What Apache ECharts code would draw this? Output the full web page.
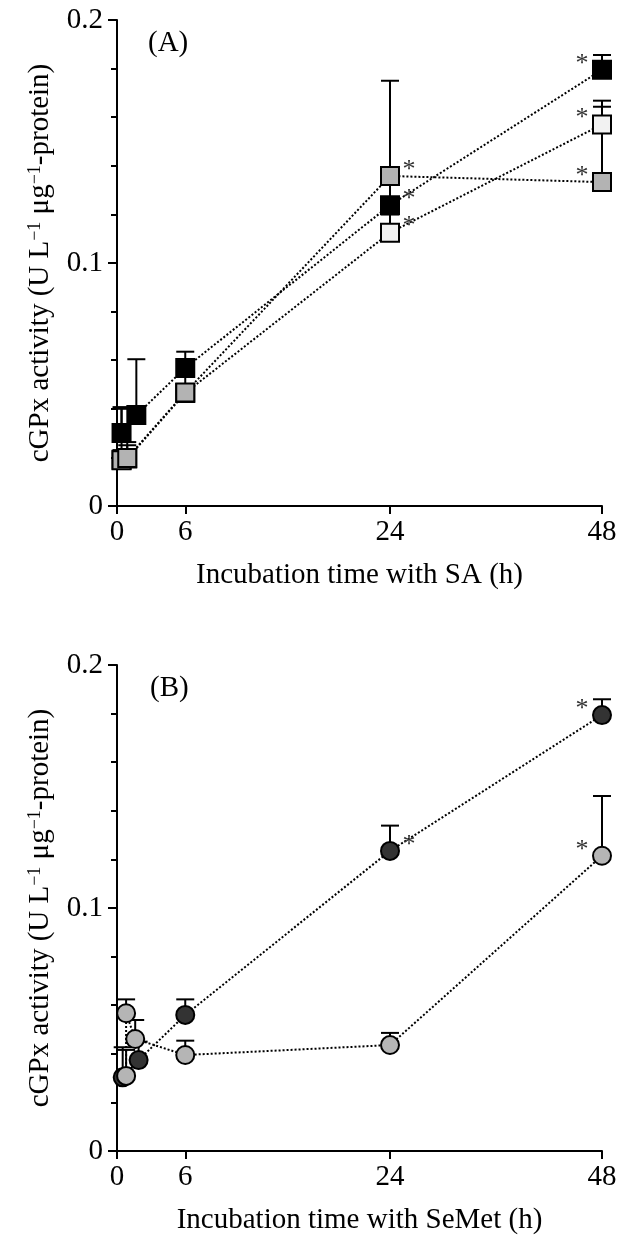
<!DOCTYPE html>
<html>
<head>
<meta charset="utf-8">
<script src="https://cdn.jsdelivr.net/npm/echarts@6/dist/echarts.min.js"></script>
<style>html,body{margin:0;padding:0;background:#fff}#c{width:620px;height:1241px}</style>
</head>
<body>
<div id="c"></div>
<script>
// ---------- DATA ----------
// x tick labels (hours) and y tick labels
const xTickHours = [0, 6, 24, 48];
const xTickLabels = ['0', '6', '24', '48'];
const yTickValues = [0, 0.1, 0.2];
const yTickLabels = ['0', '0.1', '0.2'];

// Panel A: SA treatment (squares)
const hoursA_black = [0.4, 1.7, 6, 24, 48];
const cgpxA_black  = [0.0300, 0.0374, 0.0568, 0.1238, 0.1795];
const sdA_black    = [0.0107, 0.0230, 0.0067, 0.0112, 0.0061];
const sigA_black   = [0, 0, 0, 1, 1];

const hoursA_white = [0.4, 0.9, 6, 24, 48];
const cgpxA_white  = [0.0190, 0.0195, 0.0465, 0.1125, 0.1570];
const sdA_white    = [0.0210, 0.0055, 0.0035, 0.0075, 0.0073];
const sigA_white   = [0, 0, 0, 1, 1];

const hoursA_gray = [0.4, 0.9, 6, 24, 48];
const cgpxA_gray  = [0.0188, 0.0198, 0.0467, 0.1358, 0.1333];
const sdA_gray    = [0.0042, 0.0065, 0.0073, 0.0392, 0.0335];
const sigA_gray   = [0, 0, 0, 1, 1];

// Panel B: SeMet treatment (circles)
const hoursB_dark = [0.5, 1.9, 6, 24, 48];
const cgpxB_dark  = [0.0303, 0.0374, 0.0560, 0.1235, 0.1794];
const sdB_dark    = [0.0124, 0.0076, 0.0064, 0.0104, 0.0065];
const sigB_dark   = [0, 0, 0, 1, 1];

const hoursB_gray = [0.8, 0.8, 1.6, 6, 24, 48];
const cgpxB_gray  = [0.0309, 0.0567, 0.0461, 0.0395, 0.0436, 0.1215];
const sdB_gray    = [0.0107, 0.0057, 0.0078, 0.0059, 0.0050, 0.0246];
const sigB_gray   = [0, 0, 0, 0, 0, 1];

// ---------- AXIS TRANSFORM (compressed after 24 h, as in the original figure) ----------
const LATE_RATIO = 212 / 273;
function tx(h) { return h <= 24 ? h : 24 + (h - 24) * LATE_RATIO; }

const FONT = '"Liberation Serif", "Times New Roman", serif';
const chart = echarts.init(document.getElementById('c'), null, { renderer: 'canvas' });

function rows(hours, vals, sds, sigs) {
  return hours.map((h, i) => [tx(h), vals[i], vals[i] + sds[i], sigs[i], h]);
}

function errRender(params, api) {
  const x = api.value(0), v = api.value(1), top = api.value(2);
  const p0 = api.coord([x, v]);
  const p1 = api.coord([x, top]);
  const st = { stroke: '#000', lineWidth: 2 };
  return {
    type: 'group',
    children: [
      { type: 'line', shape: { x1: p0[0], y1: p0[1], x2: p1[0], y2: p1[1] }, style: st },
      { type: 'line', shape: { x1: p1[0] - 9, y1: p1[1], x2: p1[0] + 9, y2: p1[1] }, style: st }
    ]
  };
}

function sigRender(params, api) {
  if (!api.value(3)) return null;
  const p = api.coord([api.value(0), api.value(1)]);
  const left = api.value(4) >= 48;
  return {
    type: 'text',
    x: p[0] + (left ? -20 : 19),
    y: p[1] - 6,
    style: { text: '*', fill: '#333', font: '26px ' + FONT, align: 'center', verticalAlign: 'middle' }
  };
}

function group(gi, name, data, symbol, fill) {
  return [
    { type: 'line', name: name + '-line', xAxisIndex: gi, yAxisIndex: gi, data: data.map(d => [d[0], d[1]]),
      symbol: 'none', z: 1, silent: true, animation: false,
      lineStyle: { color: '#000', width: 2, type: [2, 2] } },
    { type: 'custom', name: name + '-err', xAxisIndex: gi, yAxisIndex: gi, data: data,
      renderItem: errRender, encode: { x: 0, y: [1, 2] }, z: 2, silent: true, animation: false },
    { type: 'custom', name: name + '-sig', xAxisIndex: gi, yAxisIndex: gi, data: data,
      renderItem: sigRender, encode: { x: 0, y: 1 }, z: 2, silent: true, animation: false }
  ];
}
function marks(gi, name, data, symbol, fill, z) {
  return { type: 'scatter', name: name, xAxisIndex: gi, yAxisIndex: gi, data: data.map(d => [d[0], d[1]]),
    symbol: symbol, symbolSize: 18, z: z, silent: true, animation: false,
    itemStyle: { color: fill, borderColor: '#000', borderWidth: 2, opacity: 1 } };
}

const dA_black = rows(hoursA_black, cgpxA_black, sdA_black, sigA_black);
const dA_white = rows(hoursA_white, cgpxA_white, sdA_white, sigA_white);
const dA_gray  = rows(hoursA_gray,  cgpxA_gray,  sdA_gray,  sigA_gray);
const dB_dark  = rows(hoursB_dark,  cgpxB_dark,  sdB_dark,  sigB_dark);
const dB_gray  = rows(hoursB_gray,  cgpxB_gray,  sdB_gray,  sigB_gray);

function xAxis(gi, title) {
  const ticks = xTickHours.map(tx);
  return {
    gridIndex: gi, type: 'value', min: 0, max: tx(48),
    axisLine: { show: true, onZero: false, lineStyle: { color: '#000', width: 2 } },
    axisTick: { show: true, customValues: ticks, length: 8, lineStyle: { color: '#000', width: 2 } },
    axisLabel: { customValues: ticks, margin: 12, fontSize: 29, fontFamily: FONT, color: '#000',
      formatter: v => { const i = ticks.findIndex(t => Math.abs(t - v) < 1e-6); return i >= 0 ? xTickLabels[i] : ''; } },
    splitLine: { show: false },
    name: title, nameLocation: 'middle', nameGap: 55,
    nameTextStyle: { fontSize: 29, fontFamily: FONT, color: '#000' }
  };
}
function yAxis(gi) {
  return {
    gridIndex: gi, type: 'value', min: 0, max: 0.2, interval: 0.1,
    axisLine: { show: true, onZero: false, lineStyle: { color: '#000', width: 2 } },
    axisTick: { show: true, length: 9, lineStyle: { color: '#000', width: 2 } },
    minorTick: { show: true, splitNumber: 5, length: 6, lineStyle: { color: '#000', width: 2 } },
    axisLabel: { margin: 14, fontSize: 29, fontFamily: FONT, color: '#000',
      formatter: v => { const i = yTickValues.findIndex(t => Math.abs(t - v) < 1e-9); return i >= 0 ? yTickLabels[i] : ''; } },
    splitLine: { show: false }, minorSplitLine: { show: false },
    name: '{a|cGPx activity (U L}{s|−1}{a| μg}{s|−1}{a|-protein)}',
    nameLocation: 'middle', nameRotate: 90, nameGap: 62,
    nameTextStyle: { fontSize: 29, fontFamily: FONT, color: '#000',
      rich: { a: { fontSize: 29, fontFamily: FONT, color: '#000' },
              s: { fontSize: 18, fontFamily: FONT, color: '#000', verticalAlign: 'top', padding: [0, 0, 10, 0] } } }
  };
}

const option = {
  backgroundColor: '#fff',
  animation: false,
  title: [
    { text: '(A)', left: 148, top: 29, padding: 0, textStyle: { fontSize: 29, fontFamily: FONT, fontWeight: 'normal', color: '#000' } },
    { text: '(B)', left: 150, top: 674, padding: 0, textStyle: { fontSize: 29, fontFamily: FONT, fontWeight: 'normal', color: '#000' } }
  ],
  grid: [
    { left: 117, top: 20, width: 485, height: 486 },
    { left: 117, top: 665, width: 485, height: 486 }
  ],
  xAxis: [xAxis(0, 'Incubation time with SA (h)'), xAxis(1, 'Incubation time with SeMet (h)')],
  yAxis: [yAxis(0), yAxis(1)],
  series: [
    ...group(0, 'A-white', dA_white),
    ...group(0, 'A-gray', dA_gray),
    ...group(0, 'A-black', dA_black),
    marks(0, 'A-white', dA_white, 'rect', '#f2f2f2', 3),
    marks(0, 'A-gray', dA_gray, 'rect', '#b3b3b3', 4),
    marks(0, 'A-black', dA_black, 'rect', '#000', 5),
    ...group(1, 'B-dark', dB_dark),
    ...group(1, 'B-gray', dB_gray),
    marks(1, 'B-dark', dB_dark, 'circle', '#333', 3),
    marks(1, 'B-gray', dB_gray, 'circle', '#b5b5b5', 4)
  ]
};
chart.setOption(option);
</script>
</body>
</html>
